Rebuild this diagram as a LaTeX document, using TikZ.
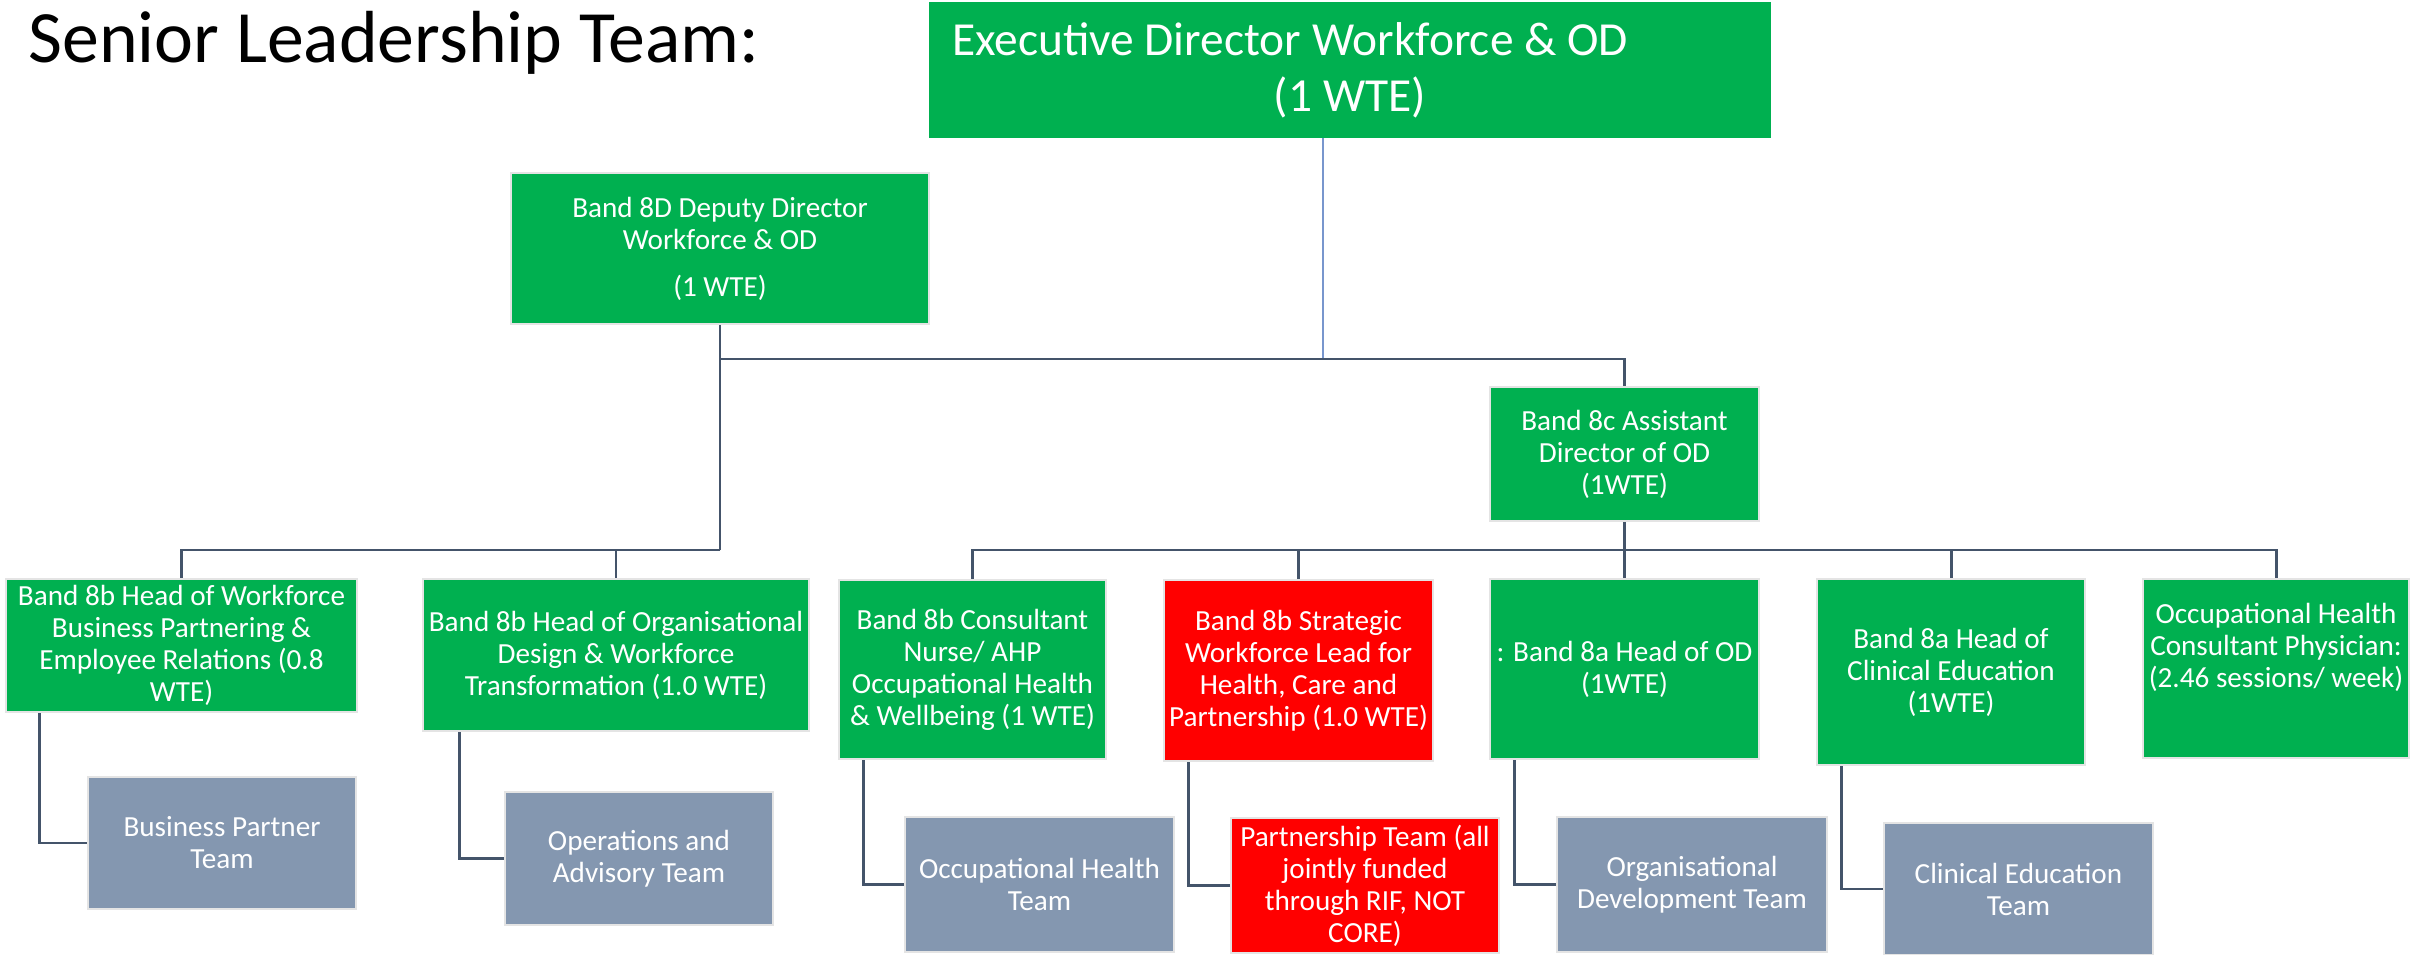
\documentclass[tikz,border=0pt]{standalone}
\usepackage{fontspec}
\setmainfont{Carlito}

\definecolor{sltgreen}{RGB}{0,176,80}
\definecolor{sltred}{RGB}{255,0,0}
\definecolor{sltteam}{RGB}{132,151,176}
\definecolor{sltline}{RGB}{68,84,106}
\definecolor{sltedge}{RGB}{228,228,228}
\definecolor{sltblue}{RGB}{120,150,205}

\begin{document}
\begin{tikzpicture}[x=0.1mm, y=-0.1mm,
box/.style = {rectangle, draw=sltedge, line width=0.6pt, text=white, align=center, inner sep=1pt, font=\fontsize{8.3}{9.1}\selectfont},
gbox/.style = {box, fill=sltgreen},
rbox/.style = {box, fill=sltred},
tbox/.style = {box, fill=sltteam},
link/.style = {draw=sltline, line width=0.85pt}]
\useasboundingbox (0,0) rectangle (2410,955);
\node[anchor=base west, font=\fontsize{21}{25}\selectfont] (title) at (16,63) {Senior Leadership Team:};
\node[gbox, draw=none, minimum width=84.2mm, minimum height=13.6mm, font=\fontsize{13.5}{15.9}\selectfont] (exec) at (1350,70) {Executive Director Workforce \& OD\hspace*{12mm}\mbox{}\\(1 WTE)};
\node[gbox, minimum width=41.8mm, minimum height=15.1mm] (dd) at (720,248.5) {Band 8D Deputy Director\\Workforce \& OD\\[1.5mm](1 WTE)};
\node[gbox, minimum width=26.9mm, minimum height=13.4mm] (adod) at (1624.5,454) {Band 8c Assistant\\Director of OD\\(1WTE)};
% heads
\node[gbox, minimum width=35.1mm, minimum height=13.3mm] (hwbp) at (181.5,645.5) {Band 8b Head of Workforce\\Business Partnering \&\\Employee Relations (0.8\\WTE)};
\node[gbox, minimum width=38.6mm, minimum height=15.2mm] (hodt) at (616,655) {Band 8b Head of Organisational\\Design \& Workforce\\Transformation (1.0 WTE)};
\node[gbox, minimum width=26.7mm, minimum height=17.9mm] (cn) at (972.5,669.5) {Band 8b Consultant\\Nurse/ AHP\\Occupational Health\\\& Wellbeing (1 WTE)};
\node[rbox, minimum width=26.9mm, minimum height=18.1mm] (sw) at (1298.5,670.5) {Band 8b Strategic\\Workforce Lead for\\Health, Care and\\Partnership (1.0 WTE)};
\node[gbox, minimum width=26.9mm, minimum height=18mm] (hod) at (1624.5,669) {: Band 8a Head of OD\\(1WTE)};
\node[gbox, minimum width=26.8mm, minimum height=18.6mm] (hce) at (1951,672) {Band 8a Head of\\Clinical Education\\(1WTE)};
\node[gbox, minimum width=26.6mm, minimum height=17.9mm] (ohp) at (2276,668.5) {Occupational Health\\Consultant Physician:\\(2.46 sessions/ week)\\[1.4mm]~};
% teams
\node[tbox, minimum width=26.8mm, minimum height=13.2mm] (tbp) at (222,843) {Business Partner\\Team};
\node[tbox, minimum width=26.8mm, minimum height=13.3mm] (tops) at (639,858.5) {Operations and\\Advisory Team};
\node[tbox, minimum width=26.9mm, minimum height=13.5mm] (toh) at (1039.5,884.5) {Occupational Health\\Team};
\node[rbox, minimum width=26.8mm, minimum height=13.5mm] (tpt) at (1365,885.5) {Partnership Team (all\\jointly funded\\through RIF, NOT\\CORE)};
\node[tbox, minimum width=27mm, minimum height=13.5mm] (todt) at (1692,884.5) {Organisational\\Development Team};
\node[tbox, minimum width=26.9mm, minimum height=13.2mm] (tce) at (2018.5,889) {Clinical Education\\Team};
\coordinate (e1) at (1323,138);
\coordinate (j1) at (720,359);
\coordinate (j2) at (720,550);
\coordinate (j3) at (1624.5,550);
\draw[sltblue, line width=0.4pt] (e1) -- (e1 |- j1);
\draw[link] (dd.south) -- (j2);
\draw[link] (j1) -| (adod.north);
\draw[link] (j2) -| (hwbp.north);
\draw[link] (j2) -| (hodt.north);
\draw[link] (adod.south) -- (j3);
\draw[link] (j3) -| (cn.north);
\draw[link] (j3) -| (sw.north);
\draw[link] (j3) -- (hod.north);
\draw[link] (j3) -| (hce.north);
\draw[link] (j3) -| (ohp.north);
\draw[link] ([xshift=3.5mm]hwbp.south west) |- (tbp.west);
\draw[link] ([xshift=3.8mm]hodt.south west) |- (tops.west);
\draw[link] ([xshift=2.6mm]cn.south west) |- (toh.west);
\draw[link] ([xshift=2.6mm]sw.south west) |- (tpt.west);
\draw[link] ([xshift=2.6mm]hod.south west) |- (todt.west);
\draw[link] ([xshift=2.6mm]hce.south west) |- (tce.west);
\end{tikzpicture}
\end{document}
